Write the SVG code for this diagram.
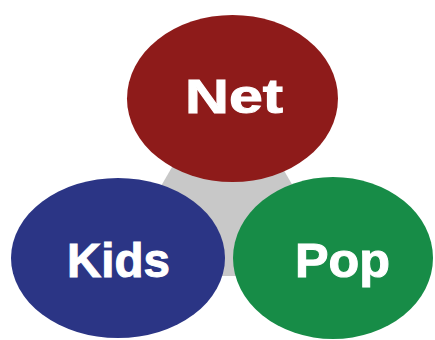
<svg xmlns="http://www.w3.org/2000/svg" width="435" height="340" viewBox="0 0 435 340">
  <style>
    .label { font-family: "Liberation Sans", Arial, sans-serif; font-weight: bold; font-size: 48px; fill: #ffffff; stroke: #ffffff; stroke-width: 1; text-anchor: middle; }
  </style>
  <rect width="435" height="340" fill="#ffffff"/>
  <!-- shared backdrop linking the three circles -->
  <g id="hub">
    <polygon points="227,72 109,276 345,276" fill="#c8c8c8"/>
  </g>
  <g id="net">
    <ellipse cx="232.5" cy="98.5" rx="105.5" ry="83.5" fill="#8e1b1a"/>
    <text class="label" x="234" y="113" textLength="98" lengthAdjust="spacingAndGlyphs">Net</text>
  </g>
  <g id="kids">
    <ellipse cx="118" cy="258" rx="107" ry="80" fill="#2b3585"/>
    <text class="label" x="118.5" y="277" textLength="103" lengthAdjust="spacingAndGlyphs">Kids</text>
  </g>
  <g id="pop">
    <ellipse cx="333" cy="258" rx="100" ry="81" fill="#178c47"/>
    <text class="label" x="342.5" y="277" textLength="95" lengthAdjust="spacingAndGlyphs">Pop</text>
  </g>
</svg>
